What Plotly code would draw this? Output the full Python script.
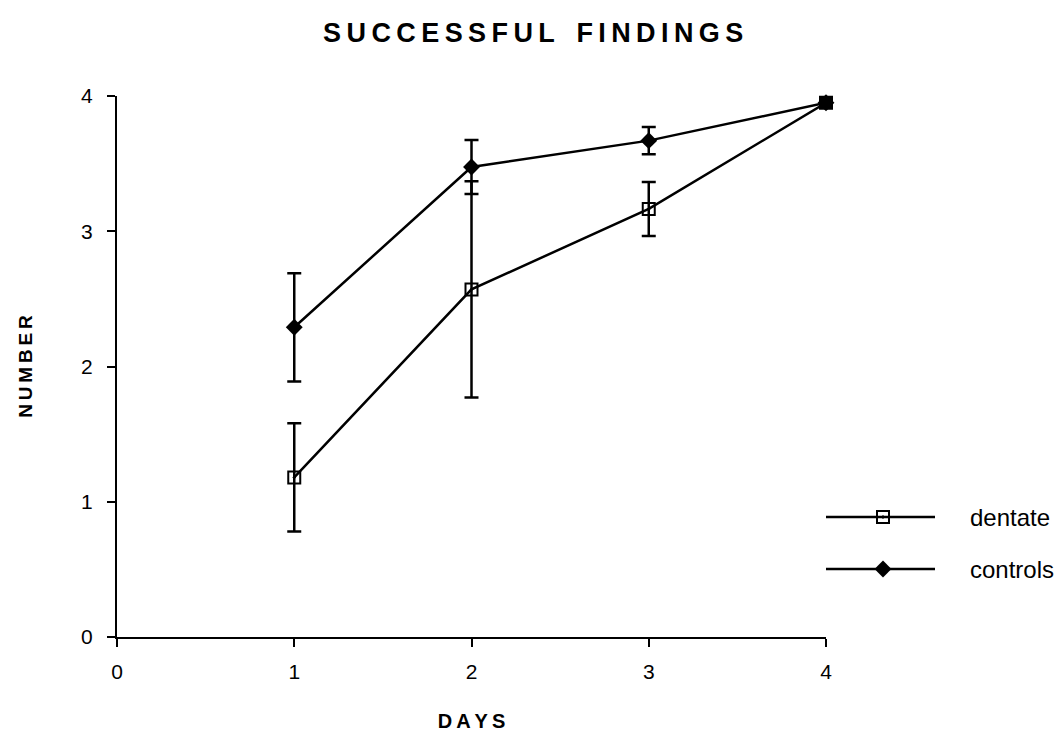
import plotly.graph_objects as go

days = [1, 2, 3, 4]
dentate = [1.18, 2.57, 3.165, 3.95]
dentate_err = [0.4, 0.8, 0.2, 0]
controls = [2.29, 3.475, 3.67, 3.95]
controls_err = [0.4, 0.2, 0.1, 0]
x_ticks = [0, 1, 2, 3, 4]
y_ticks = [0, 1, 2, 3, 4]
series_names = ["dentate", "controls"]

W, H = 1060, 733
font = "Liberation Sans, Arial, sans-serif"
TS = "\u2009"


def spaced(s):
    return TS.join(s)


# where both series coincide the printed marker appears as a filled square
dentate_symbols = ["square" if d == c else "square-open-dot" for d, c in zip(dentate, controls)]

fig = go.Figure()
fig.add_trace(go.Scatter(
    x=days, y=controls, mode="lines+markers", name=series_names[1],
    line=dict(color="black", width=2.5),
    marker=dict(symbol="diamond", size=13, color="black"),
    error_y=dict(type="data", array=controls_err, color="black", thickness=2.5, width=7),
    cliponaxis=False, showlegend=False,
))
fig.add_trace(go.Scatter(
    x=days, y=dentate, mode="lines+markers", name=series_names[0],
    line=dict(color="black", width=2.5),
    marker=dict(symbol=dentate_symbols, size=12, color="black", line=dict(width=2, color="black")),
    error_y=dict(type="data", array=dentate_err, color="black", thickness=2.5, width=7),
    cliponaxis=False, showlegend=False,
))

# custom legend drawn in a pixel-space overlay axis
leg_y = [517, 569]
leg_sym = [dict(symbol="square-open-dot", size=12, color="black", line=dict(width=2, color="black")),
           dict(symbol="diamond", size=13, color="black")]
for name, yy, sym in zip(series_names, leg_y, leg_sym):
    fig.add_trace(go.Scatter(x=[826, 935], y=[yy, yy], mode="lines", line=dict(color="black", width=2.5),
                             xaxis="x2", yaxis="y2", showlegend=False, hoverinfo="skip"))
    fig.add_trace(go.Scatter(x=[883], y=[yy], mode="markers", marker=sym,
                             xaxis="x2", yaxis="y2", showlegend=False, hoverinfo="skip"))
    fig.add_annotation(x=968, y=yy, xref="x2", yref="y2", text=name, showarrow=False,
                       xanchor="left", yanchor="middle", font=dict(size=24, color="black", family=font))

x0, x1 = 117, 826
y0, y1 = 96, 637
fig.update_layout(
    width=W, height=H,
    margin=dict(l=0, r=0, t=0, b=0),
    paper_bgcolor="white", plot_bgcolor="rgba(0,0,0,0)",
    font=dict(family=font, color="black"),
    xaxis=dict(domain=[x0 / W, x1 / W], range=[0, 4], tickvals=x_ticks, automargin=False,
               showgrid=False, zeroline=False, showline=True, linecolor="black", linewidth=2,
               ticks="outside", ticklen=8, tickwidth=2, tickcolor="black",
               tickfont=dict(size=21), anchor="y", ticklabelstandoff=7,
               title=dict(text="<b>" + spaced("DAYS") + "</b>", font=dict(size=20), standoff=32)),
    yaxis=dict(domain=[1 - y1 / H, 1 - y0 / H], range=[0, 4], tickvals=y_ticks, automargin=False,
               showgrid=False, zeroline=False, showline=True, linecolor="black", linewidth=2,
               ticks="outside", ticklen=8, tickwidth=2, tickcolor="black",
               tickfont=dict(size=21), anchor="x", ticklabelstandoff=10,
               title=dict(text="<b>" + spaced("NUMBER") + "</b>", font=dict(size=19), standoff=43)),
    xaxis2=dict(domain=[0, 1], range=[0, W], visible=False, anchor="y2", fixedrange=True, automargin=False),
    yaxis2=dict(domain=[0, 1], range=[H, 0], visible=False, anchor="x2", fixedrange=True, automargin=False),
    title=dict(text="<b>" + spaced("SUCCESSFUL") + TS * 4 + spaced("FINDINGS") + "</b>",
               x=0.503, xanchor="center", y=1 - 33 / H,
               yanchor="middle", font=dict(size=27, color="black")),
)

fig.write_html("out.html")
